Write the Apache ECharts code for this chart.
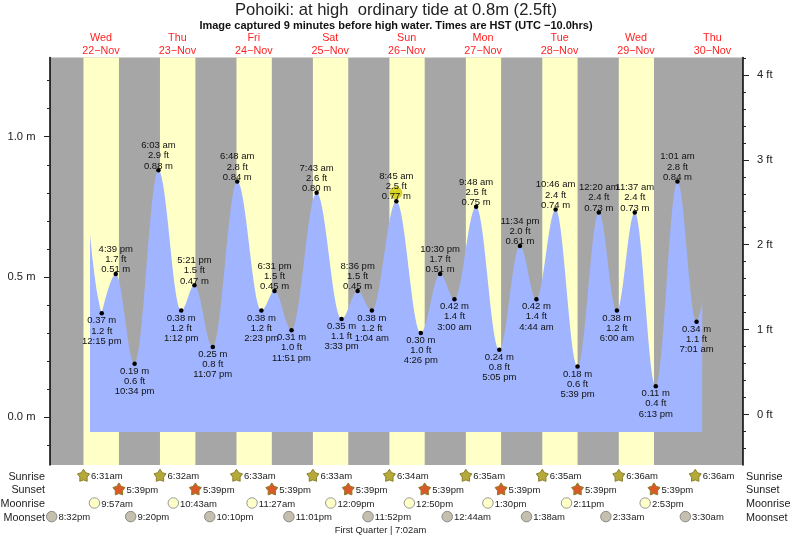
<!DOCTYPE html>
<html>
<head>
<meta charset="utf-8">
<script src="https://cdn.jsdelivr.net/npm/echarts@6/dist/echarts.min.js"></script>
<style>
html, body { margin: 0; padding: 0; background: #fff; }
#chart { width: 793px; height: 539px; }
</style>
</head>
<body>
<div id="chart"></div>
<script>
// times are [day of November, clock time]
// the first stretch is cut mid-slope, so it is read off the picture and drawn straight
const tideHead = [
  [22, '8:34 am', 0.65],
  [22, '9:17 am', 0.57],
  [22, '9:55 am', 0.51],
  [22, '10:40 am', 0.45],
  [22, '11:42 am', 0.39],
  [22, '12:15 pm', 0.37],
  [22, '12:40 pm', 0.375]
];
const tideEnd = [30, '8:48 am', 0.41];
const highTides = [
  [22, '4:39 pm', 0.51, '1.7'],
  [23, '6:03 am', 0.88, '2.9'],
  [23, '5:21 pm', 0.47, '1.5'],
  [24, '6:48 am', 0.84, '2.8'],
  [24, '6:31 pm', 0.45, '1.5'],
  [25, '7:43 am', 0.80, '2.6'],
  [25, '8:36 pm', 0.45, '1.5'],
  [26, '8:45 am', 0.77, '2.5'],
  [26, '10:30 pm', 0.51, '1.7'],
  [27, '9:48 am', 0.75, '2.5'],
  [27, '11:34 pm', 0.61, '2.0'],
  [28, '10:46 am', 0.74, '2.4'],
  [29, '12:20 am', 0.73, '2.4'],
  [29, '11:37 am', 0.73, '2.4'],
  [30, '1:01 am', 0.84, '2.8']
];
const lowTides = [
  [22, '12:15 pm', 0.37, '1.2'],
  [22, '10:34 pm', 0.19, '0.6'],
  [23, '1:12 pm', 0.38, '1.2'],
  [23, '11:07 pm', 0.25, '0.8'],
  [24, '2:23 pm', 0.38, '1.2'],
  [24, '11:51 pm', 0.31, '1.0'],
  [25, '3:33 pm', 0.35, '1.1'],
  [26, '1:04 am', 0.38, '1.2'],
  [26, '4:26 pm', 0.30, '1.0'],
  [27, '3:00 am', 0.42, '1.4'],
  [27, '5:05 pm', 0.24, '0.8'],
  [28, '4:44 am', 0.42, '1.4'],
  [28, '5:39 pm', 0.18, '0.6'],
  [29, '6:00 am', 0.38, '1.2'],
  [29, '6:13 pm', 0.11, '0.4'],
  [30, '7:01 am', 0.34, '1.1']
];
const nowMark = [26, '8:36 am', 0.80];

const dayNames = ['Wed', 'Thu', 'Fri', 'Sat', 'Sun', 'Mon', 'Tue', 'Wed', 'Thu'];
const dayDates = ['22−Nov', '23−Nov', '24−Nov', '25−Nov', '26−Nov', '27−Nov', '28−Nov', '29−Nov', '30−Nov'];
const dayNoons = [12, 36, 60, 84, 108, 132, 156, 180, 204];

const sunrises = [
  [22, '6:31 am'], [23, '6:32 am'], [24, '6:33 am'], [25, '6:33 am'], [26, '6:34 am'],
  [27, '6:35 am'], [28, '6:35 am'], [29, '6:36 am'], [30, '6:36 am']
];
const sunsets = [
  [22, '5:39 pm'], [23, '5:39 pm'], [24, '5:39 pm'], [25, '5:39 pm'],
  [26, '5:39 pm'], [27, '5:39 pm'], [28, '5:39 pm'], [29, '5:39 pm']
];
const moonrises = [
  [22, '9:57 am'], [23, '10:43 am'], [24, '11:27 am'], [25, '12:09 pm'],
  [26, '12:50 pm'], [27, '1:30 pm'], [28, '2:11 pm'], [29, '2:53 pm']
];
const moonsets = [
  [21, '8:32 pm'], [22, '9:20 pm'], [23, '10:10 pm'], [24, '11:01 pm'], [25, '11:52 pm'],
  [27, '12:44 am'], [28, '1:38 am'], [29, '2:33 am'], [30, '3:30 am']
];
const rowNames = ['Sunrise', 'Sunset', 'Moonrise', 'Moonset'];

const meterTicks = [0, 0.5, 1.0];
const meterMinor = [-0.1, 0.1, 0.2, 0.3, 0.4, 0.6, 0.7, 0.8, 0.9, 1.1, 1.2];
const feetTicks = [0, 1, 2, 3, 4];
const feetMinor = [-0.4, -0.2, 0.2, 0.4, 0.6, 0.8, 1.2, 1.4, 1.6, 1.8, 2.2, 2.4, 2.6, 2.8, 3.2, 3.4, 3.6, 3.8, 4.2];

// hours since 22 Nov 00:00
function toHours(day, clock) {
  let parts = clock.split(' ');
  let hm = parts[0].split(':');
  let h = parseInt(hm[0]) % 12;
  if (parts[1] === 'pm') {
    h += 12;
  }
  return (day - 22) * 24 + h + parseInt(hm[1]) / 60;
}
function clockShort(clock) {
  return clock.replace(' ', '');
}
function tidePoint(t) {
  return [toHours(t[0], t[1]), t[2]];
}

const tideLine = highTides.concat(lowTides, [tideEnd]).map(tidePoint).sort((a, b) => a[0] - b[0]);
const dayBands = sunrises.slice(0, sunsets.length).map((s, i) => [
  { xAxis: toHours(s[0], s[1]) },
  { xAxis: toHours(sunsets[i][0], sunsets[i][1]) }
]);

const SUN_STAR = 'path://M50 2 L67.6 27.7 L97.6 36.5 L78.5 61.3 L79.4 92.5 L50 82 L20.6 92.5 L21.5 61.3 L2.4 36.5 L32.4 27.7 Z';

function eventSeries(list, row, symbol, size, color, border, lift) {
  return {
    type: 'scatter',
    xAxisIndex: 1,
    yAxisIndex: 4,
    symbol: symbol,
    symbolSize: size,
    symbolOffset: [0, -lift],
    itemStyle: { color: color, borderColor: border, borderWidth: 1, opacity: 1 },
    label: {
      show: true,
      position: 'right',
      distance: 1,
      offset: [0, lift],
      fontFamily: 'Liberation Sans',
      fontSize: 9.5,
      color: '#222',
      formatter: (p) => clockShort(list[p.dataIndex][1])
    },
    data: list.map((e) => [toHours(e[0], e[1]), rowNames[row]])
  };
}

function tideLabels(list, isHigh) {
  return {
    type: 'scatter',
    symbol: 'circle',
    symbolSize: 4.5,
    itemStyle: { color: '#000', opacity: 1 },
    z: 6,
    label: {
      show: true,
      position: isHigh ? 'top' : 'bottom',
      distance: isHigh ? -3 : 0,
      fontFamily: 'Liberation Sans',
      fontSize: 9.5,
      lineHeight: 10.2,
      color: '#111',
      formatter: (p) => {
        let t = list[p.dataIndex];
        let lines = [t[1], t[3] + ' ft', t[2].toFixed(2) + ' m'];
        return (isHigh ? lines : lines.reverse()).join('\n');
      }
    },
    data: list.map(tidePoint)
  };
}

const chart = echarts.init(document.getElementById('chart'));
const option = {
  animation: false,
  title: [
    {
      text: 'Pohoiki: at high  ordinary tide at 0.8m (2.5ft)',
      left: 396, top: 2, padding: 0, textAlign: 'center',
      textStyle: { fontFamily: 'Liberation Sans', fontSize: 16.6, fontWeight: 'normal', color: '#222' }
    },
    {
      text: 'Image captured 9 minutes before high water. Times are HST (UTC −10.0hrs)',
      left: 396, top: 20, padding: 0, textAlign: 'center',
      textStyle: { fontFamily: 'Liberation Sans', fontSize: 11, fontWeight: 'bold', color: '#111' }
    },
    {
      text: 'First Quarter | 7:02am',
      left: 380.5, top: 526, padding: 0, textAlign: 'center',
      textStyle: { fontFamily: 'Liberation Sans', fontSize: 9.4, fontWeight: 'normal', color: '#222' }
    }
  ],
  grid: [
    { left: 50, right: 50, top: 57.4, height: 407.6, show: true, backgroundColor: '#a6a6a6', borderWidth: 0, outerBoundsMode: 'none' },
    { left: 50, right: 50, top: 470, height: 54.4, show: false, outerBoundsMode: 'none' }
  ],
  xAxis: [
    {
      gridIndex: 0, type: 'value', position: 'top', min: -4, max: 213.6,
      axisLine: { show: false, onZero: false }, axisTick: { show: false }, splitLine: { show: false },
      axisLabel: {
        show: true,
        customValues: dayNoons,
        margin: 0.5,
        fontFamily: 'Liberation Sans',
        fontSize: 10.8,
        lineHeight: 12.5,
        color: '#f22',
        formatter: (v) => {
          let i = dayNoons.indexOf(v);
          return dayNames[i] + '\n' + dayDates[i];
        }
      }
    },
    {
      gridIndex: 1, type: 'value', min: -4, max: 213.6, show: false
    }
  ],
  yAxis: [
    {
      gridIndex: 0, type: 'value', position: 'left', min: -0.171, max: 1.283,
      splitLine: { show: false },
      axisLine: { show: true, onZero: false, lineStyle: { color: '#000', width: 1.5 } },
      axisTick: { show: true, customValues: meterTicks, length: 6, lineStyle: { color: '#222' } },
      axisLabel: {
        customValues: meterTicks, margin: 14.5, fontFamily: 'Liberation Sans', fontSize: 11.2, color: '#222',
        formatter: (v) => v.toFixed(1) + ' m'
      }
    },
    {
      gridIndex: 0, type: 'value', position: 'right', min: -0.594, max: 4.206,
      splitLine: { show: false },
      axisLine: { show: true, onZero: false, lineStyle: { color: '#000', width: 1.5 } },
      axisTick: { show: true, customValues: feetTicks, length: 6, lineStyle: { color: '#222' } },
      axisLabel: {
        customValues: feetTicks, margin: 14, fontFamily: 'Liberation Sans', fontSize: 11.2, color: '#222',
        formatter: (v) => v + ' ft'
      }
    },
    {
      gridIndex: 0, type: 'value', position: 'left', min: -0.171, max: 1.283,
      splitLine: { show: false }, axisLine: { show: false, onZero: false }, axisLabel: { show: false },
      axisTick: { show: true, customValues: meterMinor, length: 3, lineStyle: { color: '#222' } }
    },
    {
      gridIndex: 0, type: 'value', position: 'right', min: -0.594, max: 4.206,
      splitLine: { show: false }, axisLine: { show: false, onZero: false }, axisLabel: { show: false },
      axisTick: { show: true, customValues: feetMinor, length: 3, lineStyle: { color: '#222' } }
    },
    {
      gridIndex: 1, type: 'category', position: 'left', inverse: true, data: rowNames,
      axisLine: { show: false, onZero: false }, axisTick: { show: false }, splitLine: { show: false },
      axisLabel: { interval: 0, margin: 5, fontFamily: 'Liberation Sans', fontSize: 10.8, color: '#222' }
    },
    {
      gridIndex: 1, type: 'category', position: 'right', inverse: true, data: rowNames,
      axisLine: { show: false, onZero: false }, axisTick: { show: false }, splitLine: { show: false },
      axisLabel: { interval: 0, margin: 3, fontFamily: 'Liberation Sans', fontSize: 10.8, color: '#222' }
    }
  ],
  series: [
    {
      type: 'line',
      data: [],
      z: 1,
      silent: true,
      markArea: {
        silent: true,
        itemStyle: { color: '#ffffc8', borderWidth: 0 },
        data: dayBands
      }
    },
    {
      type: 'line',
      data: tideHead.map(tidePoint),
      z: 2,
      symbol: 'none',
      lineStyle: { width: 0 },
      areaStyle: { color: '#a0b4ff', opacity: 1, origin: -0.053 }
    },
    {
      type: 'line',
      data: tideLine,
      z: 2,
      smooth: 0.36,
      smoothMonotone: 'x',
      symbol: 'none',
      lineStyle: { width: 0 },
      areaStyle: { color: '#a0b4ff', opacity: 1, origin: -0.053 }
    },
    {
      type: 'scatter',
      z: 5,
      symbol: 'circle',
      symbolSize: 12,
      itemStyle: { color: '#d8d428', borderColor: '#b8b020', borderWidth: 0.5, opacity: 1 },
      data: [tidePoint(nowMark)]
    },
    tideLabels(highTides, true),
    tideLabels(lowTides, false),
    eventSeries(sunrises, 0, SUN_STAR, 12, '#b5a93a', '#8a7f2c', 1.5),
    eventSeries(sunsets, 1, SUN_STAR, 12, '#d95a26', '#8a7f2c', 1.5),
    eventSeries(moonrises, 2, 'circle', 10.5, '#ffffc8', '#999', 1),
    eventSeries(moonsets, 3, 'circle', 10.5, '#c4c0ad', '#888', 1)
  ]
};
chart.setOption(option);
</script>
</body>
</html>
